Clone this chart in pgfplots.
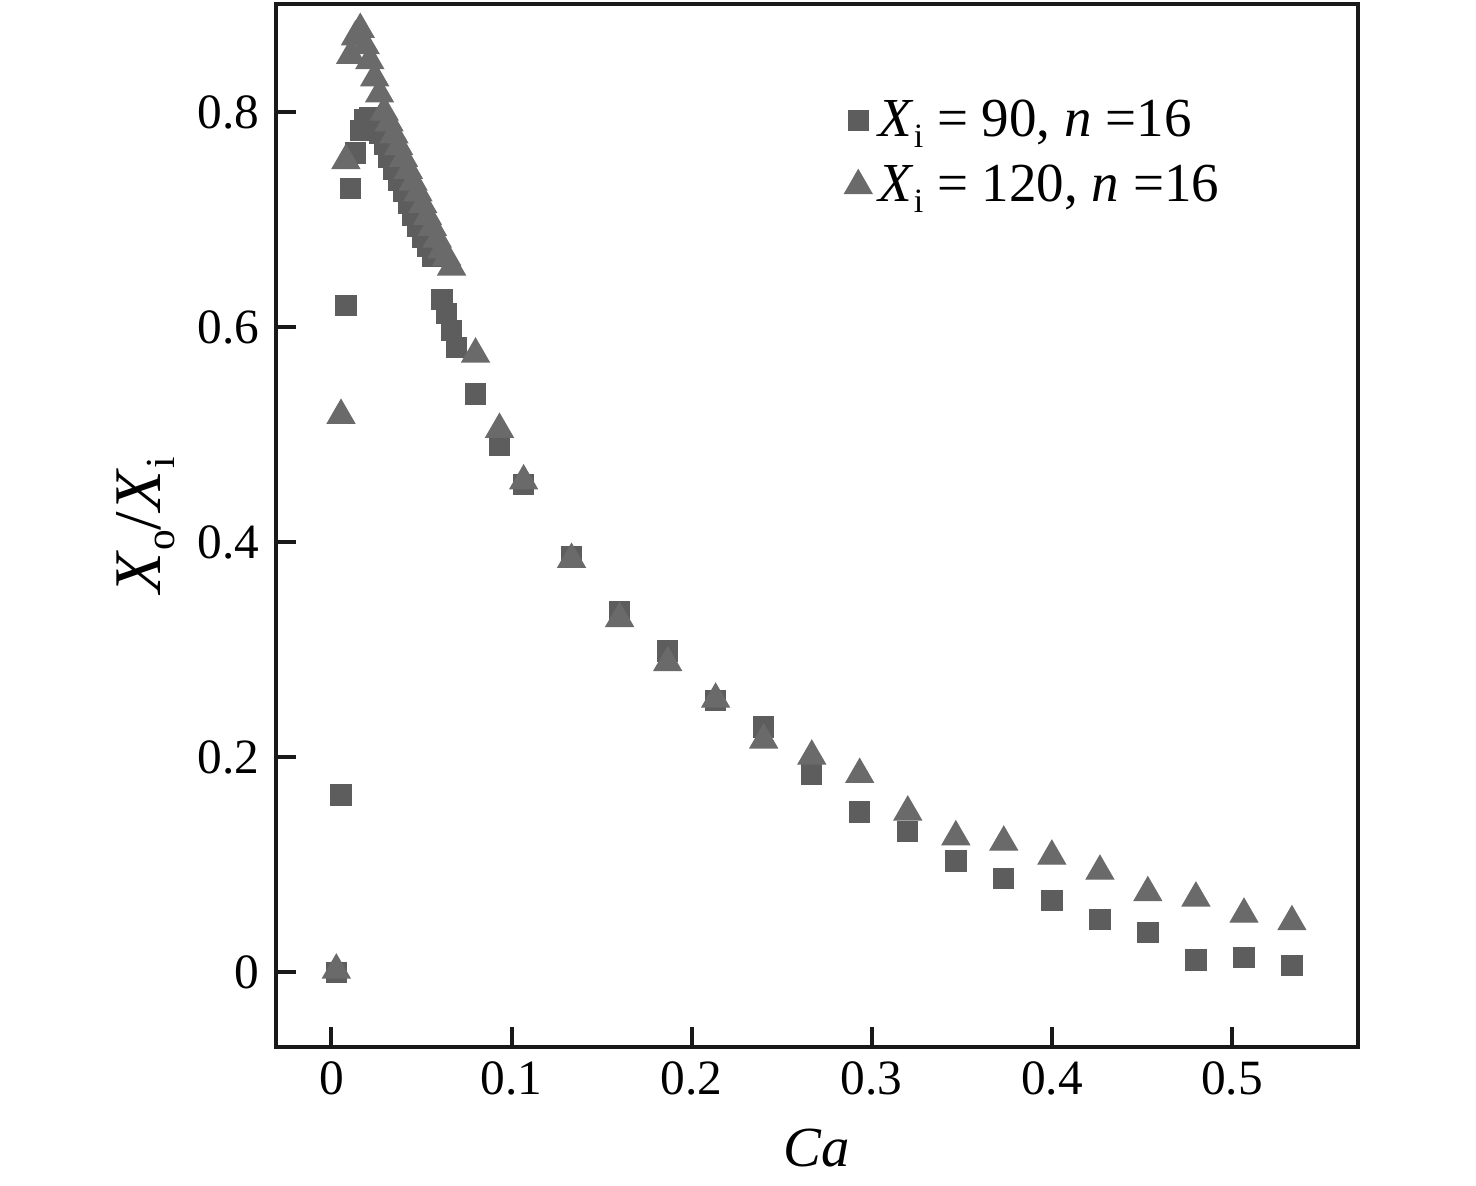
\documentclass[border=0pt]{standalone}
\usepackage{fontspec}
\setmainfont{Liberation Serif}
\usepackage{pgfplots}
\pgfplotsset{compat=1.18}
\definecolor{sqc}{RGB}{93,93,93}
\definecolor{trc}{RGB}{106,106,106}
\newcommand{\sub}[1]{\raisebox{-0.45ex}{\fontsize{0.62em}{1em}\selectfont #1}}
\begin{document}
\begin{tikzpicture}
\begin{axis}[
  scale only axis,
  width=324.6pt, height=312.9pt,
  xmin=-0.0308, xmax=0.570,
  ymin=-0.0695, ymax=0.9007,
  xtick={0,0.1,0.2,0.3,0.4,0.5},
  ytick={0,0.2,0.4,0.6,0.8},
  xticklabels={0,0.1,0.2,0.3,0.4,0.5},
  yticklabels={0,0.2,0.4,0.6,0.8},
  xtick pos=bottom, ytick pos=left,
  tick align=inside,
  major tick length=6pt,
  axis line style={line width=1.2pt, black!90},
  every tick/.style={line width=1.2pt, black!90},
  tick label style={font=\fontsize{14.8}{16}\selectfont},
  yticklabel style={xshift=-1.5pt},
  xticklabel style={yshift=-1pt},
  xlabel={\textit{Ca}},
  ylabel={\textit{X}\sub{o}/\textit{X}\sub{i}},
  xlabel style={font=\fontsize{17}{20}\selectfont, yshift=-3pt},
  ylabel style={font=\fontsize{20}{22}\selectfont, yshift=0pt},
  legend style={at={(0.525,0.915)}, anchor=north west, draw=none, fill=none,
    font=\fontsize{16.5}{20}\selectfont, row sep=3pt, inner sep=0pt},
  legend cell align=left,
  legend image code/.code={\draw[#1] plot coordinates {(0.1cm,0cm)};},
]
\addplot[only marks, mark=square*, mark size=3pt, color=sqc] coordinates {
(0.0027,0.000) (0.0053,0.165) (0.0080,0.620) (0.0107,0.729) (0.0133,0.762)
(0.0160,0.783) (0.0187,0.793) (0.0213,0.795) (0.0240,0.790) (0.0267,0.780)
(0.0293,0.770) (0.0320,0.758) (0.0347,0.747) (0.0373,0.737) (0.0400,0.726)
(0.0427,0.715) (0.0453,0.704) (0.0480,0.694) (0.0507,0.684) (0.0533,0.675)
(0.0560,0.666) (0.0613,0.626) (0.0640,0.613) (0.0667,0.597) (0.0693,0.581)
(0.0800,0.538) (0.0933,0.490) (0.1067,0.454) (0.1333,0.387) (0.1600,0.335)
(0.1867,0.299) (0.2133,0.253) (0.2400,0.228) (0.2667,0.184) (0.2933,0.149)
(0.3200,0.131) (0.3467,0.1035) (0.3733,0.087) (0.4000,0.067) (0.4267,0.049)
(0.4533,0.037) (0.4800,0.0115) (0.5067,0.014) (0.5333,0.006)
};
\addlegendentry{\textit{X}\sub{i} = 90, \textit{n} =16}
\addplot[only marks, mark=triangle*, mark size=4.7pt, color=trc] coordinates {
(0.0027,0.002) (0.0053,0.518) (0.0080,0.755) (0.0107,0.853) (0.0133,0.870)
(0.0160,0.877) (0.0187,0.862) (0.0213,0.848) (0.0240,0.832) (0.0267,0.817)
(0.0293,0.800) (0.0320,0.790) (0.0347,0.779) (0.0373,0.768) (0.0400,0.757)
(0.0427,0.746) (0.0453,0.735) (0.0480,0.725) (0.0507,0.714) (0.0533,0.703)
(0.0560,0.693) (0.0587,0.682) (0.0613,0.672) (0.0640,0.665) (0.0667,0.656)
(0.0800,0.575) (0.0933,0.505) (0.1067,0.457) (0.1333,0.384) (0.1600,0.329)
(0.1867,0.288) (0.2133,0.254) (0.2400,0.216) (0.2667,0.201) (0.2933,0.184)
(0.3200,0.149) (0.3467,0.126) (0.3733,0.121) (0.4000,0.108) (0.4267,0.094)
(0.4533,0.074) (0.4800,0.069) (0.5067,0.054) (0.5333,0.047)
};
\addlegendentry{\textit{X}\sub{i} = 120, \textit{n} =16}
\end{axis}
\path (current axis.south west) ++(-82.8pt,-41.7pt) coordinate (bbA);
\path (current axis.north east) ++(35.4pt,1.2pt) coordinate (bbB);
\path (bbA) rectangle (bbB);
\end{tikzpicture}
\end{document}
